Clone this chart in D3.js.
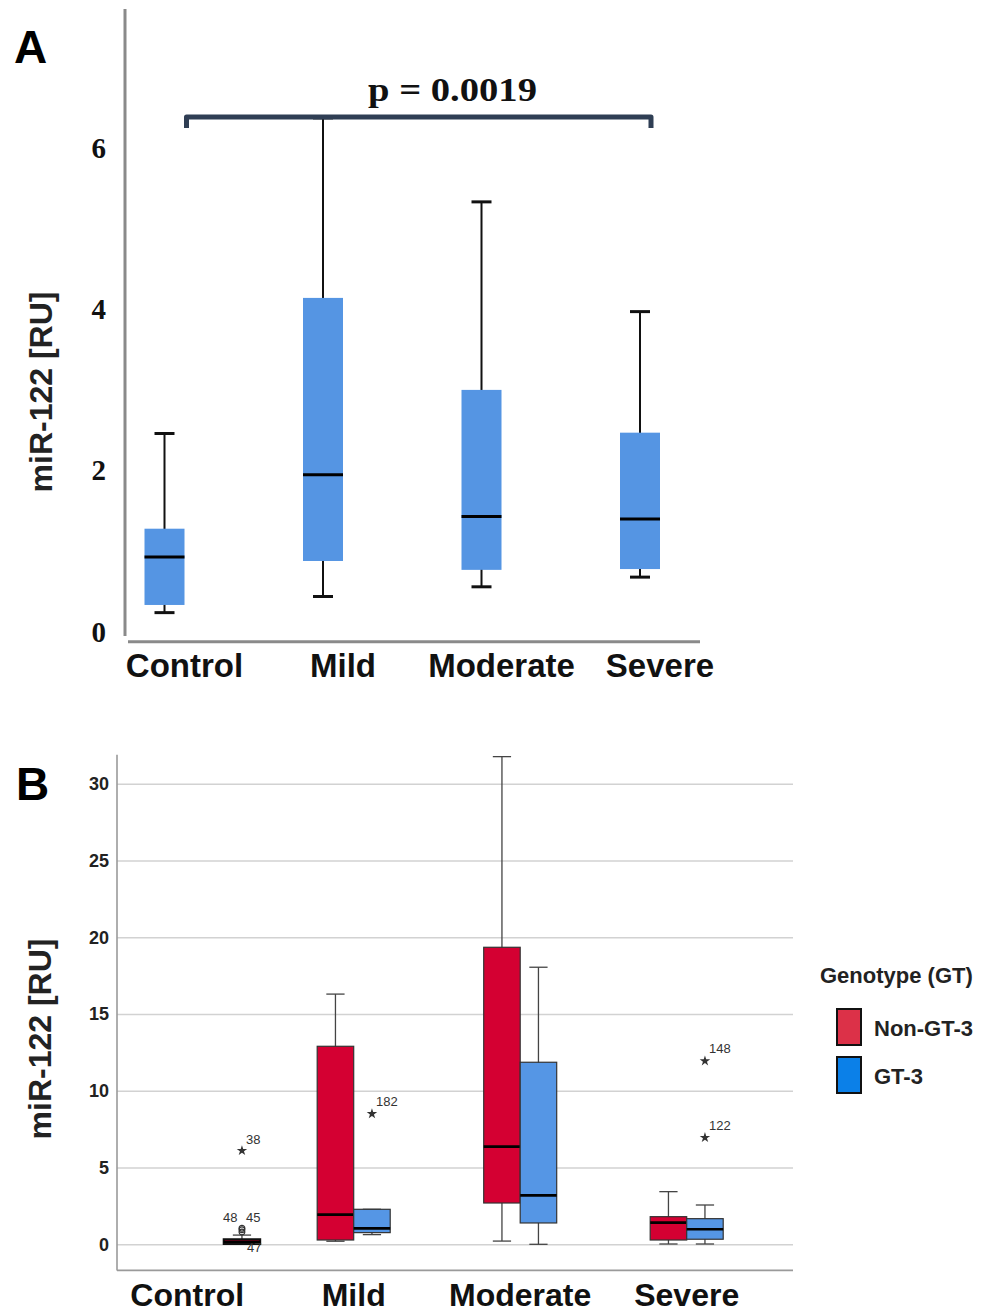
<!DOCTYPE html>
<html>
<head>
<meta charset="utf-8">
<script src="https://cdn.jsdelivr.net/npm/d3@7"></script>
<style>
  body { margin: 0; background: #fff; }
  svg { display: block; }
</style>
</head>
<body>
<div class="container"></div>
<script>
// panel A : all patients
var categories = ['Control', 'Mild', 'Moderate', 'Severe'];
var minA    = [0.24, 0.44, 0.56, 0.68];
var q1A     = [0.335, 0.88, 0.77, 0.78];
var medianA = [0.93, 1.95, 1.43, 1.40];
var q3A     = [1.28, 4.14, 3.00, 2.47];
var maxA    = [2.46, 6.37, 5.33, 3.97];
var ticksA  = [0, 2, 4, 6];
var pLabel  = 'p = 0.0019';

// panel B : split by genotype
var genotypes = ['Non-GT-3', 'GT-3'];
// category, genotype, min, q1, median, q3, max
var boxesB = [
  ['Control',  'All',      0.02, 0.02, 0.17, 0.33, 0.60],
  ['Mild',     'Non-GT-3', 0.20, 0.28, 1.93, 12.90, 16.30],
  ['Mild',     'GT-3',     0.63, 0.76, 1.04, 2.28, 2.28],
  ['Moderate', 'Non-GT-3', 0.21, 2.69, 6.36, 19.35, 31.77],
  ['Moderate', 'GT-3',     0.00, 1.39, 3.19, 11.86, 18.05],
  ['Severe',   'Non-GT-3', 0.02, 0.28, 1.41, 1.80, 3.43],
  ['Severe',   'GT-3',     0.02, 0.33, 0.98, 1.67, 2.56]
];
// category, genotype, value, case id, kind
var outliersB = [
  ['Control', 'All',  6.10, '38',  'extreme'],
  ['Control', 'All',  1.05, '48',  'outlier'],
  ['Control', 'All',  0.95, '45',  'outlier'],
  ['Control', 'All',  0.80, '47',  'outlier'],
  ['Mild',    'GT-3', 8.50, '182', 'extreme'],
  ['Severe',  'GT-3', 11.94, '148', 'extreme'],
  ['Severe',  'GT-3', 6.95, '122', 'extreme']
];
var ticksB = [0, 5, 10, 15, 20, 25, 30];
var yTitle = 'miR-122 [RU]';
var legendTitle = 'Genotype (GT)';

var W = 988, H = 1316;
var svg = d3.select('.container').append('svg')
  .attr('width', W).attr('height', H);

var sans = 'Liberation Sans, Arial, sans-serif';
var serif = 'Liberation Serif, Times New Roman, serif';

// ---------------- panel A ----------------
var xA = d3.scalePoint().domain(categories).range([164.5, 640]);
var yA = d3.scaleLinear().domain([0, 6]).range([632, 632 - 6 * 80.7]);
var boxWA = 40;

var gA = svg.append('g');

gA.append('text').attr('x', 14).attr('y', 63)
  .attr('font-family', sans).attr('font-weight', 'bold').attr('font-size', 46)
  .text('A');

// axis lines
gA.append('line').attr('x1', 125).attr('x2', 125)
  .attr('y1', yA(7.72)).attr('y2', yA(-0.05))
  .attr('stroke', '#8a8a8a').attr('stroke-width', 3);
gA.append('line').attr('x1', 128).attr('x2', 700)
  .attr('y1', yA(-0.12)).attr('y2', yA(-0.12))
  .attr('stroke', '#8a8a8a').attr('stroke-width', 3);

var axA = gA.append('g').attr('transform', 'translate(125,0)')
  .call(d3.axisLeft(yA).tickValues(ticksA).tickFormat(d3.format('d')).tickSize(0).tickPadding(19));
axA.select('.domain').remove();
axA.selectAll('text')
  .attr('font-family', serif).attr('font-weight', 'bold').attr('font-size', 29)
  .attr('fill', '#111');

var rowsA = categories.map(function(c, i) {
  return {cat: c, min: minA[i], q1: q1A[i], med: medianA[i], q3: q3A[i], max: maxA[i]};
});

var boxA = gA.selectAll('.boxA').data(rowsA).enter().append('g').attr('class', 'boxA');
boxA.append('line')
  .attr('x1', function(d) { return xA(d.cat); }).attr('x2', function(d) { return xA(d.cat); })
  .attr('y1', function(d) { return yA(d.max); }).attr('y2', function(d) { return yA(d.min); })
  .attr('stroke', '#111').attr('stroke-width', 2);
boxA.append('line')
  .attr('x1', function(d) { return xA(d.cat) - 10; }).attr('x2', function(d) { return xA(d.cat) + 10; })
  .attr('y1', function(d) { return yA(d.max); }).attr('y2', function(d) { return yA(d.max); })
  .attr('stroke', '#111').attr('stroke-width', 3);
boxA.append('line')
  .attr('x1', function(d) { return xA(d.cat) - 10; }).attr('x2', function(d) { return xA(d.cat) + 10; })
  .attr('y1', function(d) { return yA(d.min); }).attr('y2', function(d) { return yA(d.min); })
  .attr('stroke', '#111').attr('stroke-width', 3);
boxA.append('rect')
  .attr('x', function(d) { return xA(d.cat) - boxWA / 2; })
  .attr('width', boxWA)
  .attr('y', function(d) { return yA(d.q3); })
  .attr('height', function(d) { return yA(d.q1) - yA(d.q3); })
  .attr('fill', '#5595e3');
boxA.append('line')
  .attr('x1', function(d) { return xA(d.cat) - boxWA / 2; }).attr('x2', function(d) { return xA(d.cat) + boxWA / 2; })
  .attr('y1', function(d) { return yA(d.med); }).attr('y2', function(d) { return yA(d.med); })
  .attr('stroke', '#000').attr('stroke-width', 3);

gA.selectAll('.catA').data(categories).enter().append('text')
  .attr('class', 'catA')
  .attr('x', function(d) { return xA(d) + 20; }).attr('y', 677)
  .attr('text-anchor', 'middle')
  .attr('font-family', sans).attr('font-weight', 'bold').attr('font-size', 33)
  .attr('fill', '#111')
  .text(function(d) { return d; });

gA.append('text')
  .attr('transform', 'translate(52,' + 392 + ') rotate(-90)')
  .attr('text-anchor', 'middle')
  .attr('font-family', sans).attr('font-weight', 'bold').attr('font-size', 32)
  .attr('fill', '#222')
  .text(yTitle);

// significance bracket Control vs Severe
var bx1 = xA('Control') + 22, bx2 = xA('Severe') + 11, by = 117;
gA.append('path')
  .attr('d', 'M' + bx1 + ',' + (by + 11) + 'V' + by + 'H' + bx2 + 'V' + (by + 11))
  .attr('fill', 'none').attr('stroke', '#2f3e54').attr('stroke-width', 5)
  .attr('stroke-linejoin', 'round');
gA.append('text')
  .attr('x', 368).attr('y', 101)
  .attr('font-family', serif).attr('font-weight', 'bold').attr('font-size', 33)
  .attr('textLength', 169).attr('lengthAdjust', 'spacingAndGlyphs')
  .attr('fill', '#111')
  .text(pLabel);

// ---------------- panel B ----------------
var xB = d3.scalePoint().domain(categories).range([187.2, 686.7]);
var subB = d3.scaleBand().domain(['Non-GT-3', 'GT-3', 'All']).range([-36.5, 73]);
var yB = d3.scaleLinear().domain([0, 30]).range([1244.3, 783.8]);
var fillB = d3.scaleOrdinal().domain(['Non-GT-3', 'GT-3', 'All'])
  .range(['#d40032', '#5596e5', '#c8002e']);

var gB = svg.append('g');

gB.append('text').attr('x', 16).attr('y', 800)
  .attr('font-family', sans).attr('font-weight', 'bold').attr('font-size', 46)
  .text('B');

var axB = gB.append('g').attr('transform', 'translate(117,0)')
  .call(d3.axisLeft(yB).tickValues(ticksB).tickSizeInner(-676).tickSizeOuter(0).tickPadding(8));
axB.select('.domain').remove();
axB.selectAll('line').attr('stroke', '#d2d2d2').attr('stroke-width', 1.6);
axB.selectAll('text')
  .attr('font-family', sans).attr('font-weight', 'bold').attr('font-size', 18)
  .attr('fill', '#222');

gB.append('line').attr('x1', 117).attr('x2', 117)
  .attr('y1', yB(31.9)).attr('y2', yB(-1.7))
  .attr('stroke', '#9a9a9a').attr('stroke-width', 1.6);
gB.append('line').attr('x1', 117).attr('x2', 793)
  .attr('y1', yB(-1.7)).attr('y2', yB(-1.7))
  .attr('stroke', '#9a9a9a').attr('stroke-width', 1.6);

var rowsB = boxesB.map(function(r) {
  return {cat: r[0], gt: r[1], min: r[2], q1: r[3], med: r[4], q3: r[5], max: r[6]};
});
var bw = subB.bandwidth();
function cx(d) { return xB(d.cat) + subB(d.gt) + bw / 2; }

var boxB = gB.selectAll('.boxB').data(rowsB).enter().append('g').attr('class', 'boxB');
boxB.append('line')
  .attr('x1', cx).attr('x2', cx)
  .attr('y1', function(d) { return yB(d.max); }).attr('y2', function(d) { return yB(d.min); })
  .attr('stroke', '#444').attr('stroke-width', 1.3);
boxB.append('line')
  .attr('x1', function(d) { return cx(d) - bw / 4; }).attr('x2', function(d) { return cx(d) + bw / 4; })
  .attr('y1', function(d) { return yB(d.max); }).attr('y2', function(d) { return yB(d.max); })
  .attr('stroke', '#444').attr('stroke-width', 1.3);
boxB.append('line')
  .attr('x1', function(d) { return cx(d) - bw / 4; }).attr('x2', function(d) { return cx(d) + bw / 4; })
  .attr('y1', function(d) { return yB(d.min); }).attr('y2', function(d) { return yB(d.min); })
  .attr('stroke', '#444').attr('stroke-width', 1.3);
boxB.append('rect')
  .attr('x', function(d) { return xB(d.cat) + subB(d.gt); })
  .attr('width', bw)
  .attr('y', function(d) { return yB(d.q3); })
  .attr('height', function(d) { return Math.max(1, yB(d.q1) - yB(d.q3)); })
  .attr('fill', function(d) { return fillB(d.gt); })
  .attr('stroke', function(d) { return d.gt === 'All' ? '#111' : '#333'; })
  .attr('stroke-width', function(d) { return d.gt === 'All' ? 2 : 1.2; });
boxB.append('line')
  .attr('x1', function(d) { return xB(d.cat) + subB(d.gt); })
  .attr('x2', function(d) { return xB(d.cat) + subB(d.gt) + bw; })
  .attr('y1', function(d) { return yB(d.med); }).attr('y2', function(d) { return yB(d.med); })
  .attr('stroke', '#000').attr('stroke-width', 2.6);

// outliers and case labels
var labelShift = {'38': [4, -7], '182': [4, -8], '148': [4, -8], '122': [4, -8],
                  '48': [-19, -6], '45': [4, -8], '47': [5, 20]};
var outRows = outliersB.map(function(r) {
  return {cat: r[0], gt: r[1], value: r[2], id: r[3], kind: r[4]};
});
var star = d3.symbol().type(d3.symbolStar).size(34);
gB.selectAll('.outB').data(outRows).enter().append('path')
  .attr('class', 'outB')
  .attr('transform', function(d) { return 'translate(' + cx(d) + ',' + yB(d.value) + ')'; })
  .attr('d', function(d) {
    return d.kind === 'extreme' ? star() : d3.symbol().type(d3.symbolCircle).size(26)();
  })
  .attr('fill', function(d) { return d.kind === 'extreme' ? '#333' : 'none'; })
  .attr('stroke', '#333').attr('stroke-width', function(d) { return d.kind === 'extreme' ? 0 : 1.2; });
gB.selectAll('.outLab').data(outRows).enter().append('text')
  .attr('class', 'outLab')
  .attr('x', function(d) { return cx(d) + labelShift[d.id][0]; })
  .attr('y', function(d) { return yB(d.value) + labelShift[d.id][1]; })
  .attr('font-family', sans).attr('font-size', 13).attr('fill', '#333')
  .text(function(d) { return d.id; });

gB.selectAll('.catB').data(categories).enter().append('text')
  .attr('class', 'catB')
  .attr('x', function(d) { return xB(d); }).attr('y', 1306)
  .attr('text-anchor', 'middle')
  .attr('font-family', sans).attr('font-weight', 'bold').attr('font-size', 32)
  .attr('fill', '#111')
  .text(function(d) { return d; });

gB.append('text')
  .attr('transform', 'translate(51,' + 1039 + ') rotate(-90)')
  .attr('text-anchor', 'middle')
  .attr('font-family', sans).attr('font-weight', 'bold').attr('font-size', 32)
  .attr('fill', '#222')
  .text(yTitle);

// legend
var legColor = d3.scaleOrdinal().domain(genotypes).range(['#dc3148', '#0b80e8']);
var leg = gB.append('g').attr('transform', 'translate(820,0)');
leg.append('text').attr('x', 0).attr('y', 983)
  .attr('font-family', sans).attr('font-weight', 'bold').attr('font-size', 22)
  .attr('fill', '#222').text(legendTitle);
var legItem = leg.selectAll('.leg').data(genotypes).enter().append('g')
  .attr('transform', function(d, i) { return 'translate(0,' + (1009 + i * 48) + ')'; });
legItem.append('rect').attr('x', 17).attr('y', 0).attr('width', 24).attr('height', 36)
  .attr('fill', function(d) { return legColor(d); })
  .attr('stroke', '#111').attr('stroke-width', 2);
legItem.append('text').attr('x', 54).attr('y', 27)
  .attr('font-family', sans).attr('font-weight', 'bold').attr('font-size', 22)
  .attr('fill', '#222').text(function(d) { return d; });
</script>
